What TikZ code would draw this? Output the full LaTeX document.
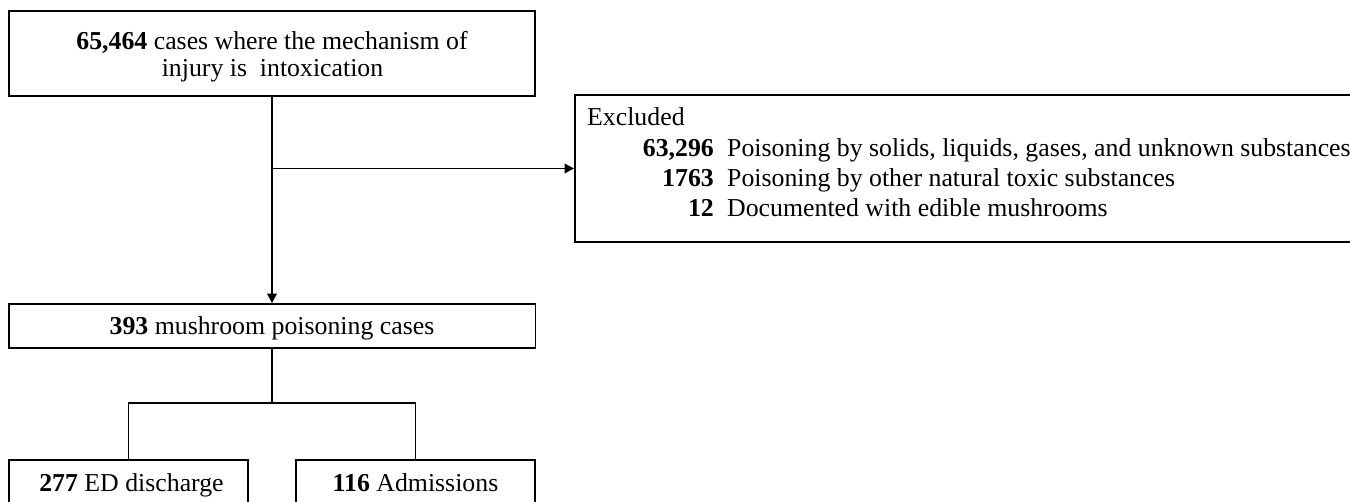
\documentclass[tikz,border=0pt]{standalone}
\usepackage{fontspec}
\setmainfont{Liberation Serif}
\usetikzlibrary{arrows.meta}
\begin{document}
\begin{tikzpicture}[x=1pt,y=-1pt,
  box/.style={draw, line width=1.8pt, inner sep=0pt},
  txt/.style={inner sep=0pt, font=\fontsize{25.8}{27}\selectfont},
  line/.style={line width=1.8pt},
  arr/.style={line width=1.8pt, -{Triangle[length=9.5pt,width=9.5pt]}}]
\useasboundingbox (0,0) rectangle (1350,502);
% boxes
\node[box, minimum width=526pt, minimum height=85pt] (top) at (272,53.2) {};
\node[box, minimum width=526.5pt, minimum height=43.7pt] (mid) at (272.3,325.9) {};
\node[box, minimum width=777pt, minimum height=147pt] (excl) at (963.5,168.5) {};
\node[box, minimum width=239pt, minimum height=46pt] (ed) at (128.5,483) {};
\node[box, minimum width=239.3pt, minimum height=46pt] (adm) at (415.4,483) {};
% texts
\node[txt, anchor=base] (topt1) at (272,50) {\textbf{65,464} cases where the mechanism of};
\node[txt, anchor=base] (topt2) at (272.5,77) {injury is~ intoxication};
\node[txt, anchor=base] (midt) at (272,335) {\textbf{393} mushroom poisoning cases};
\node[txt, anchor=base] (edt) at (131.5,491.7) {\textbf{277} ED discharge};
\node[txt, anchor=base] (admt) at (415.5,491.7) {\textbf{116} Admissions};
\node[txt, anchor=base west] (exh) at (587,126) {Excluded};
\node[txt, anchor=base east] (n1) at (714,157) {\textbf{63,296}};
\node[txt, anchor=base west] (t1) at (727,157) {Poisoning by solids, liquids, gases, and unknown substances};
\node[txt, anchor=base east] (n2) at (714,187) {\textbf{1763}};
\node[txt, anchor=base west] (t2) at (727,187) {Poisoning by other natural toxic substances};
\node[txt, anchor=base east] (n3) at (714,217) {\textbf{12}};
\node[txt, anchor=base west] (t3) at (727,217) {Documented with edible mushrooms};
% connectors
\coordinate (br) at (272,168.5);
\coordinate (split) at (272,403);
\draw[arr] (top.south) -- (mid.north -| top.south);
\draw[arr] (br) -- (excl.west);
\draw[line] (mid.south -| top.south) -- (split);
\draw[line] (ed.north) |- (split);
\draw[line] (adm.north) |- (split);
\end{tikzpicture}
\end{document}
